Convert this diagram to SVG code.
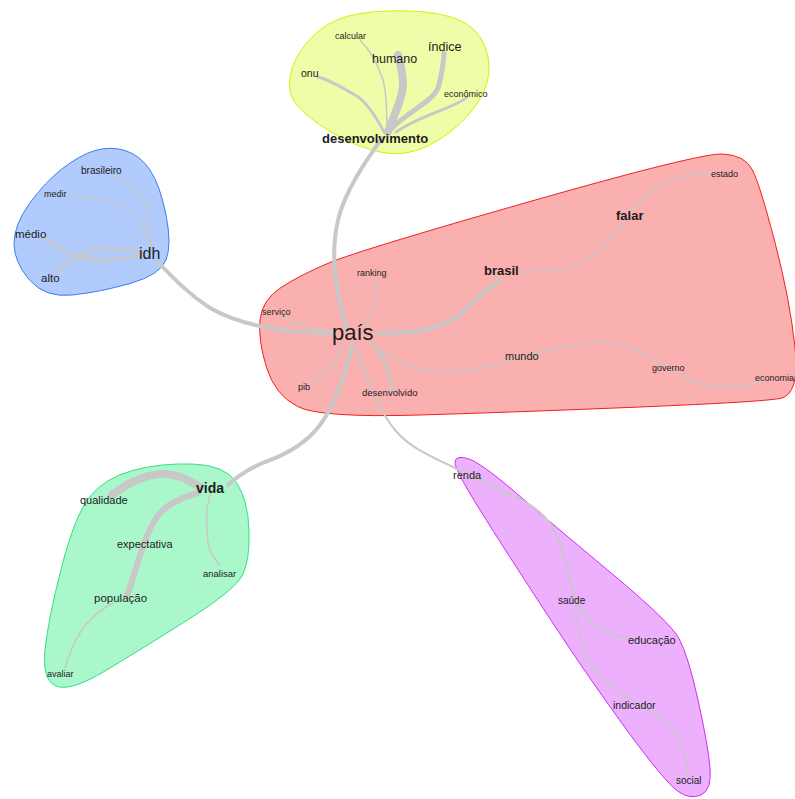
<svg xmlns="http://www.w3.org/2000/svg" width="795" height="799" viewBox="0 0 795 799">
<style>
text{font-family:"Liberation Sans",Arial,sans-serif;fill:#1c1c1c}
.e{fill:none;stroke:#c8c8c8;stroke-linecap:round;stroke-linejoin:round}
.b{font-weight:bold}
</style>
<rect width="795" height="799" fill="#ffffff"/>
<g id="clusters">
<path id="c-yellow" fill="#effda8" stroke="#d4f000" stroke-width="1" d="M289.5,86 Q289,72 297,57 Q305,42 320,30 Q335,18 357.5,14 Q380,10 410,11 Q440,12 459,20 Q478,28 485,46.5 Q492,65 487,82.5 Q482,100 466,117.5 Q450,135 427.5,146 Q405,157 382.5,152.5 Q360,148 339,136.5 Q318,125 304,112.5 Q290,100 289.5,86 Z"/>
<path id="c-blue" fill="#b0cbfc" stroke="#3a7ef0" stroke-width="1" d="M95,150.5 Q110,146 125,150.5 Q140,155 150,170 Q160,185 166,215 Q172,245 166,260 Q160,275 130,283.5 Q100,292 72.5,295 Q45,298 29.5,280 Q14,262 14,243.5 Q14,225 29.5,203.5 Q45,182 62.5,168.5 Q80,155 95,150.5 Z"/>
<path id="c-red" fill="#fbb0b0" stroke="#f02020" stroke-width="1" d="M260,320 Q262,300 281,287.5 Q300,275 330,262.5 Q360,250 530,201.5 Q700,153 722.5,154 Q745,155 752.5,170 Q760,185 775,242.5 Q790,300 795,347.5 Q800,395 780,398.5 Q760,402 640,407 Q520,412 420,415 Q320,418 297.5,406.5 Q275,395 266.5,367.5 Q258,340 260,320 Z"/>
<path id="c-green" fill="#abf7cc" stroke="#30e080" stroke-width="1" d="M90,496.5 Q105,478 132.5,470.5 Q160,463 192.5,464 Q225,465 236.5,482.5 Q248,500 249,530 Q250,560 242.5,575 Q235,590 187.5,620 Q140,650 105,671 Q70,692 56,686 Q42,680 45,650 Q48,620 61.5,567.5 Q75,515 90,496.5 Z"/>
<path id="c-purple" fill="#ecb0fc" stroke="#cc30f0" stroke-width="1" d="M455,462.5 Q455,455 467.5,458.5 Q480,462 515,492 Q550,522 610,572 Q670,622 679,638.5 Q688,655 698,700 Q708,745 710,767.5 Q712,790 701,795 Q690,800 677.5,791 Q665,782 627.5,731 Q590,680 547.5,615 Q505,550 480,510 Q455,470 455,462.5 Z"/>
</g>
<g id="connectors">
<path class="e" stroke-width="8" d="M388,132 C396,110 404,95 403,80 C402,70 400,62 398,55"/>
<path class="e" stroke-width="5" d="M392,128 C410,110 436,100 439,85 C442,72 444,62 444,53"/>
<path class="e" stroke-width="3" d="M384,132 C375,115 365,100 355,95 C343,88 330,80 318,77"/>
<path class="e" stroke-width="1.5" d="M387,132 C387,110 386,90 383,80 C378,65 370,50 360,40"/>
<path class="e" stroke-width="3" d="M396,132 C420,115 455,108 467,97"/>
<path class="e" stroke-width="4" d="M382,138 C368,158 345,190 338,220 C330,255 335,290 348,332"/>
<path class="e" stroke-width="1.5" d="M152,250 C150,230 148,215 146,205 C140,190 125,180 112,175"/>
<path class="e" stroke-width="1.5" d="M152,250 C148,235 140,220 128,210 C110,200 90,197 72,195"/>
<path class="e" stroke-width="3" d="M42,237 C55,245 65,252 75,256 C95,263 120,260 142,255"/>
<path class="e" stroke-width="3" d="M55,273 C65,262 72,258 82,254 C100,246 120,248 142,252"/>
<path class="e" stroke-width="4" d="M158,262 C175,280 190,295 210,308 C240,325 280,333 335,333"/>
<path class="e" stroke-width="4" d="M378,333 C415,333 445,330 465,310 C480,295 492,285 500,280"/>
<path class="e" stroke-width="1.5" d="M522,272 C555,272 585,268 605,245 C615,232 625,222 632,210 C650,188 670,175 712,172"/>
<path class="e" stroke-width="1.5" d="M375,280 C378,300 375,315 360,328"/>
<path class="e" stroke-width="1.5" d="M285,318 C300,325 315,330 335,332"/>
<path class="e" stroke-width="1.5" d="M365,340 C385,355 410,372 445,372 C475,372 500,362 540,352 C575,343 600,338 625,345 C650,355 665,368 690,380 C715,392 740,388 765,380"/>
<path class="e" stroke-width="3" d="M375,345 C386,360 390,375 392,392"/>
<path class="e" stroke-width="1.5" d="M308,385 C320,378 335,365 343,345"/>
<path class="e" stroke-width="2" d="M355,345 C365,375 378,410 395,430 C410,448 430,456 455,468"/>
<path class="e" stroke-width="4" d="M352,345 C345,375 335,405 320,425 C305,445 285,455 265,462 C250,468 235,478 228,485"/>
<path class="e" stroke-width="8" d="M200,487 C185,478 175,473 160,474 C140,476 125,485 112,495"/>
<path class="e" stroke-width="6" d="M198,493 C180,498 165,505 157,517 C148,530 142,548 137,565 C133,578 130,588 127,595"/>
<path class="e" stroke-width="1.5" d="M212,490 C205,505 206,525 208,543 C210,553 215,560 220,565"/>
<path class="e" stroke-width="1.5" d="M113,603 C100,610 88,620 80,633 C72,645 68,658 65,668"/>
<path class="e" stroke-width="2" d="M455,468 C470,475 480,478 490,485 C510,495 535,503 550,523 C560,540 565,560 570,580 C575,600 580,615 595,625 C610,635 620,638 632,638"/>
<path class="e" stroke-width="1.5" d="M575,607 C578,630 580,650 595,670 C608,685 620,693 640,705 C660,717 675,725 682,745 C686,760 688,770 688,778"/>
</g>
<g id="n-calcular"><text x="335" y="39" font-size="9">calcular</text></g>
<g id="n-humano"><text x="372" y="63" font-size="12.5">humano</text></g>
<g id="n-indice"><text x="428" y="51" font-size="12.5">índice</text></g>
<g id="n-onu"><text x="301" y="77" font-size="10.5">onu</text></g>
<g id="n-economico"><text x="444" y="97" font-size="9">econômico</text></g>
<g id="n-desenvolvimento"><text class="b" x="322" y="143" font-size="13">desenvolvimento</text></g>
<g id="n-brasileiro"><text x="81" y="174" font-size="10">brasileiro</text></g>
<g id="n-medir"><text x="44" y="197" font-size="9">medir</text></g>
<g id="n-medio"><text x="15" y="238" font-size="11.5">médio</text></g>
<g id="n-alto"><text x="41" y="282" font-size="11.5">alto</text></g>
<g id="n-idh"><text x="139" y="259" font-size="16">idh</text></g>
<g id="n-estado"><text x="711" y="177" font-size="9">estado</text></g>
<g id="n-falar"><text class="b" x="616" y="220" font-size="13">falar</text></g>
<g id="n-ranking"><text x="357" y="276" font-size="9">ranking</text></g>
<g id="n-brasil"><text class="b" x="484" y="275" font-size="13">brasil</text></g>
<g id="n-servico"><text x="262" y="315" font-size="9">serviço</text></g>
<g id="n-pais"><text x="332" y="340" font-size="22">país</text></g>
<g id="n-mundo"><text x="505" y="360" font-size="11">mundo</text></g>
<g id="n-governo"><text x="652" y="371" font-size="9">governo</text></g>
<g id="n-economia"><text x="755" y="381" font-size="9">economia</text></g>
<g id="n-pib"><text x="298" y="390" font-size="9">pib</text></g>
<g id="n-desenvolvido"><text x="362" y="396" font-size="9.5">desenvolvido</text></g>
<g id="n-vida"><text class="b" x="196" y="493" font-size="14">vida</text></g>
<g id="n-qualidade"><text x="80" y="504" font-size="11">qualidade</text></g>
<g id="n-expectativa"><text x="117" y="548" font-size="11">expectativa</text></g>
<g id="n-analisar"><text x="203" y="577" font-size="9.5">analisar</text></g>
<g id="n-populacao"><text x="94" y="602" font-size="11.5">população</text></g>
<g id="n-avaliar"><text x="47" y="677" font-size="9">avaliar</text></g>
<g id="n-renda"><text x="453" y="479" font-size="11">renda</text></g>
<g id="n-saude"><text x="558" y="604" font-size="10">saúde</text></g>
<g id="n-educacao"><text x="628" y="644" font-size="11">educação</text></g>
<g id="n-indicador"><text x="613" y="709" font-size="10.5">indicador</text></g>
<g id="n-social"><text x="676" y="784" font-size="10">social</text></g>
</svg>
